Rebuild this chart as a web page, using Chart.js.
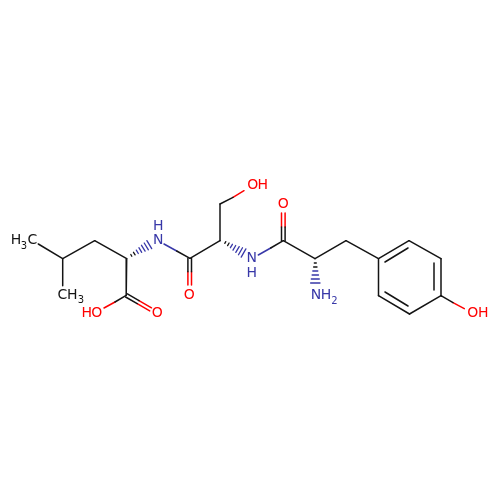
<!DOCTYPE html>
<html>
<head>
<meta charset="utf-8">
<title>Tyr-Ser-Leu</title>
<script src="https://cdn.jsdelivr.net/npm/chart.js@4"></script>
<style>
    html, body { margin: 0; padding: 0; background: #fff; }
    canvas { display: block; }
</style>
</head>
<body>
<canvas id="grafica" width="500" height="500"></canvas>
<script>
// bonds are [x1, y1, x2, y2] in picture units
const enlacesNegros = [
    [38.3, 244, 62.7, 258.7], [62.7, 258.7, 62.7, 285.7], [62.7, 258.7, 94.7, 240.7], [94.7, 240.7, 126.7, 258.7],
    [126.7, 258.7, 126.2, 295.3], [126.2, 295.3, 115, 302],
    [127.4, 293.9, 139, 300.6], [125.6, 297, 137.2, 303.7],
    [176.7, 251, 190, 258.3], [190, 258.3, 220, 240.7],
    [187.9, 258.3, 187.9, 271.7], [191.5, 258.3, 191.5, 271.7],
    [220, 240.7, 220, 204], [220, 204, 233, 197.3],
    [270.7, 248, 283.3, 240.7], [281.5, 240.7, 281.5, 227], [285.1, 240.7, 285.1, 227],
    [283.3, 240.7, 315, 258.7], [315, 258.7, 346, 240.7], [346, 240.7, 378.5, 258.7],
    [378.5, 258.7, 409, 240.7], [409, 240.7, 441, 258.7], [441, 258.7, 441, 295.7],
    [441, 295.7, 409.5, 314], [409.5, 314, 378.5, 295.7], [378.5, 295.7, 378.5, 258.7],
    [385, 262, 408, 248], [434, 263, 434, 290], [385, 292, 408, 306],
    [441, 295.7, 453, 302.7]
];
const enlacesRojos = [
    [115, 302, 104, 308],
    [139, 300.6, 151.5, 307.8], [137.2, 303.7, 149.7, 310.9],
    [187.9, 271.7, 187.9, 285], [191.5, 271.7, 191.5, 285],
    [233, 197.3, 244, 190.7],
    [281.5, 227, 281.5, 213], [285.1, 227, 285.1, 213],
    [453, 302.7, 464.3, 308.7]
];
const enlacesAzules = [
    [164, 244, 176.7, 251],
    [258.3, 255, 270.7, 248]
];
// hashed stereo bonds, one short stroke each
const rayasNegras = [
    [130.8, 254.5, 131.8, 256.3], [133.5, 252.3, 135.1, 254.9],
    [224.8, 243.4, 225.8, 241.6], [227.6, 245.6, 229.1, 243],
    [314.3, 263, 316.3, 263], [313.6, 267, 317, 267]
];
const rayasAzules = [
    [136.3, 250.1, 138.3, 253.5], [138.9, 247.7, 141.7, 252.3], [141.5, 245.3, 145.1, 251.1],
    [144.2, 243, 148.4, 249.8], [146.9, 240.6, 151.7, 248.6],
    [230.4, 247.7, 232.4, 244.3], [233, 250.1, 235.7, 245.5], [235.8, 252.4, 239.2, 246.6],
    [238.5, 254.8, 242.5, 247.8], [241.2, 257.1, 245.9, 248.9],
    [312.8, 271, 317.8, 271], [312.1, 275, 318.5, 275], [311.3, 279, 319.3, 279], [310.6, 283, 320, 283]
];

// atom labels
const atomosAzules = [["N", 158.3, 240], ["H", 158.3, 226], ["N", 251.7, 258.3], ["H", 251.7, 273.3], ["N", 316, 295.3], ["H", 326, 295.3]];
const indicesAzules = [["2", 334.5, 301.7]];
const atomosRojos = [["O", 252.7, 185.7], ["H", 262.7, 185.7], ["O", 283.3, 204.3], ["O", 189.3, 295], ["O", 157.3, 313.3],
    ["H", 86.7, 313.3], ["O", 96.7, 313.3], ["O", 472.7, 313.3], ["H", 483.3, 313.3]];
const atomosNegros = [["H", 16, 240.7], ["C", 32.3, 240.7], ["C", 62.3, 295.3], ["H", 72.3, 295.3]];
const indicesNegros = [["3", 24, 246], ["3", 81, 300]];

const NEGRO = "#141414";
const ROJO = "#ff0000";
const AZUL = "#3838a8";

function crearDatasets(lista, color, grosor) {
    return lista.map(e => ({
        data: [{ x: e[0], y: e[1] }, { x: e[2], y: e[3] }],
        showLine: true,
        borderColor: color,
        borderWidth: grosor,
        borderCapStyle: "round",
        pointRadius: 0,
        fill: false
    }));
}

const etiquetas = {
    id: "etiquetas",
    afterDatasetsDraw(chart) {
        const ctx = chart.ctx;
        const sx = chart.scales.x;
        const sy = chart.scales.y;
        const pintar = (lista, color, fuente) => {
            ctx.fillStyle = color;
            ctx.font = fuente;
            lista.forEach(a => {
                ctx.fillText(a[0], sx.getPixelForValue(a[1]), sy.getPixelForValue(a[2]));
            });
        };
        ctx.save();
        ctx.textAlign = "center";
        ctx.textBaseline = "middle";
        pintar(atomosNegros, NEGRO, "14px 'DejaVu Sans'");
        pintar(atomosRojos, ROJO, "14px 'DejaVu Sans'");
        pintar(atomosAzules, AZUL, "14px 'DejaVu Sans'");
        pintar(indicesNegros, NEGRO, "10px 'DejaVu Sans'");
        pintar(indicesAzules, AZUL, "10px 'DejaVu Sans'");
        ctx.restore();
    }
};

new Chart(document.getElementById("grafica"), {
    type: "scatter",
    data: {
        datasets: [
            ...crearDatasets(enlacesNegros, NEGRO, 1.5),
            ...crearDatasets(enlacesRojos, ROJO, 1.5),
            ...crearDatasets(enlacesAzules, AZUL, 1.5),
            ...crearDatasets(rayasNegras, NEGRO, 1.3),
            ...crearDatasets(rayasAzules, AZUL, 1.3)
        ]
    },
    options: {
        responsive: false,
        animation: false,
        devicePixelRatio: 1,
        layout: { padding: 0 },
        plugins: { legend: { display: false }, tooltip: { enabled: false } },
        scales: {
            x: { type: "linear", min: 0, max: 500, display: false },
            y: { type: "linear", min: 0, max: 500, reverse: true, display: false }
        }
    },
    plugins: [etiquetas]
});
</script>
</body>
</html>
